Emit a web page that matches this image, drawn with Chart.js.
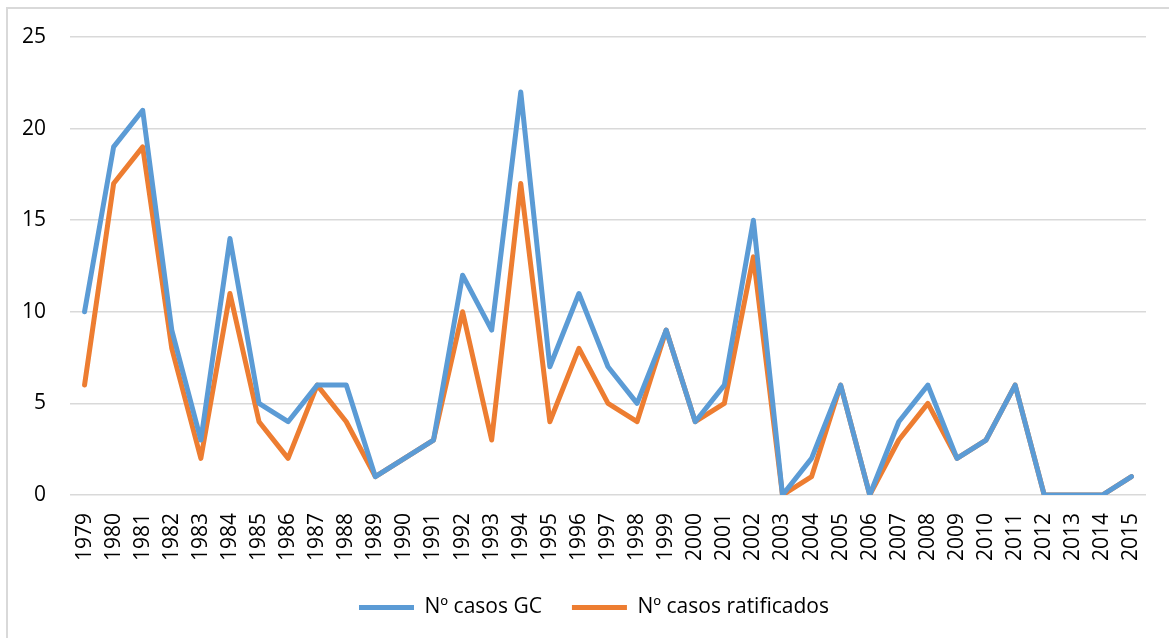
<!DOCTYPE html>
<html>
<head>
<meta charset="utf-8">
<script src="https://cdn.jsdelivr.net/npm/chart.js@4/dist/chart.umd.min.js"></script>
<style>
  html, body { margin: 0; padding: 0; background: #fff; overflow: hidden; }
  #frame { position: absolute; left: 6px; top: 7px; width: 1180px; height: 650px; border: 2px solid #d9d9d9; box-sizing: border-box; }
  #wrap { position: absolute; left: 0; top: 0; width: 1169px; height: 638px; }
</style>
</head>
<body>
<div id="frame"></div>
<div id="wrap"><canvas id="myChart"></canvas></div>
<script>
// años de la serie
let years = ["1979","1980","1981","1982","1983","1984","1985","1986","1987","1988",
  "1989","1990","1991","1992","1993","1994","1995","1996","1997","1998",
  "1999","2000","2001","2002","2003","2004","2005","2006","2007","2008",
  "2009","2010","2011","2012","2013","2014","2015"]

let casosGC = [10, 19, 21, 9, 3, 14, 5, 4, 6, 6,
  1, 2, 3, 12, 9, 22, 7, 11, 7, 5,
  9, 4, 6, 15, 0, 2, 6, 0, 4, 6,
  2, 3, 6, 0, 0, 0, 1]

let casosRatificados = [6, 17, 19, 8, 2, 11, 4, 2, 6, 4,
  1, 2, 3, 10, 3, 17, 4, 8, 5, 4,
  9, 4, 5, 13, 0, 1, 6, 0, 3, 5,
  2, 3, 6, 0, 0, 0, 1]

let yTicks = [0, 5, 10, 15, 20, 25]

let fontFam = "'Open Sans', 'Noto Sans', sans-serif"

let data = {
  labels: years,
  datasets: [{
    label: 'Nº casos GC',
    data: casosGC,
    borderColor: '#5b9bd5',
    backgroundColor: '#5b9bd5',
    borderWidth: 5,
    pointRadius: 0,
    tension: 0,
    borderJoinStyle: 'round',
    borderCapStyle: 'round'
  }, {
    label: 'Nº casos ratificados',
    data: casosRatificados,
    borderColor: '#ed7d31',
    backgroundColor: '#ed7d31',
    borderWidth: 5,
    pointRadius: 0,
    tension: 0,
    borderJoinStyle: 'round',
    borderCapStyle: 'round'
  }]
}

// la leyenda de Excel está algo desplazada a la derecha
let legendShift = {
  id: 'legendShift',
  afterLayout(chart) {
    chart.legend.left += 21
    chart.legend.right += 21
  }
}

let config = {
  type: 'line',
  data: data,
  plugins: [legendShift],
  options: {
    responsive: true,
    maintainAspectRatio: false,
    animation: false,
    layout: { padding: { top: 37, right: 23, bottom: 10, left: 0 } },
    plugins: {
      tooltip: { enabled: false },
      legend: {
        position: 'bottom',
        labels: {
          boxWidth: 55,
          boxHeight: 5,
          padding: 30,
          color: '#000',
          font: { family: fontFam, size: 21 },
          generateLabels: function(chart) {
            return chart.data.datasets.map((ds, i) => ({
              text: ds.label,
              fillStyle: ds.borderColor,
              strokeStyle: ds.borderColor,
              lineWidth: 0,
              hidden: false,
              datasetIndex: i,
              fontColor: '#000'
            }))
          }
        }
      }
    },
    scales: {
      x: {
        offset: true,
        grid: { display: false, drawTicks: false },
        border: { display: false },
        ticks: {
          color: '#000',
          font: { family: fontFam, size: 21 },
          minRotation: 90,
          maxRotation: 90,
          autoSkip: false,
          padding: 18
        },
        afterFit: function(scale) {
          scale.height = 72
          scale.paddingLeft = 0
          scale.paddingRight = 0
        }
      },
      y: {
        min: 0,
        max: 25,
        afterBuildTicks: function(scale) { scale.ticks = yTicks.map(v => ({ value: v })) },
        grid: { color: '#d9d9d9', lineWidth: 1.5, drawTicks: false },
        border: { display: false },
        ticks: {
          color: '#000',
          font: { family: fontFam, size: 21 },
          padding: 24
        },
        afterFit: function(scale) { scale.width = 70 }
      }
    }
  }
}

let myChart = new Chart(document.getElementById('myChart'), config)
</script>
</body>
</html>
